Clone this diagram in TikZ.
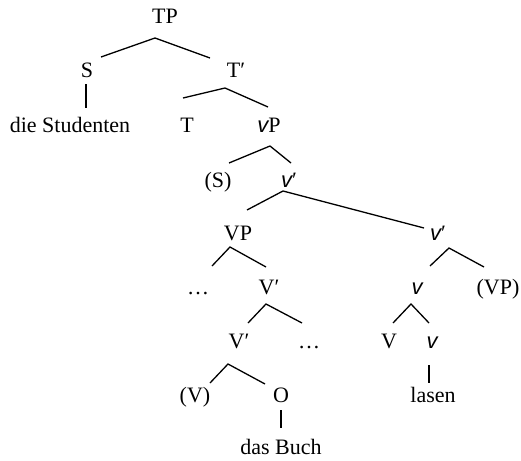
\documentclass[tikz,border=0pt]{standalone}
\usepackage{fontspec}
\setmainfont{Liberation Serif}
\newfontfamily\vfont{Liberation Sans}
\usetikzlibrary{calc,positioning}
\def\sv{{\vfont\itshape v}}
\tikzset{
  lab/.style={anchor=base,inner sep=0pt,font=\fontsize{22}{26}\selectfont},
  branch/.style={line width=1.3pt}
}
\begin{document}
\begin{tikzpicture}[x=1pt,y=-1pt]
\useasboundingbox (0,0) rectangle (521,460);
% labels
\node[lab] (tp) at (165,24) {TP};
\node[lab] (s) at (87,77) {S};
\node[lab] (tb) at (236,77) {T′};
\node[lab] (stud) at (70,132) {die Studenten};
\node[lab] (t) at (187,132) {T};
\node[lab] (vp) at (269,132) {\sv P};
\node[lab] (sp) at (218,187) {(S)};
\node[lab] (vb) at (289,187) {\sv′};
\node[lab] (vpb) at (238,240) {VP};
\node[lab] (vbr) at (438,240) {\sv′};
\node[lab] (dots1) at (198,294) {…};
\node[lab] (vbar) at (269,294) {V′};
\node[lab] (vsm) at (417,294) {\sv};
\node[lab] (vpp) at (498,294) {(VP)};
\node[lab] (vbarl) at (239,348) {V′};
\node[lab] (dots2) at (309,348) {…};
\node[lab] (vv) at (389,348) {V};
\node[lab] (vsm2) at (432,348) {\sv};
\node[lab] (vpar) at (195,402) {(V)};
\node[lab] (o) at (281,402) {O};
\node[lab] (lasen) at (433,402) {lasen};
\node[lab] (buch) at (281,454) {das Buch};
% branches
\draw[branch] ([shift={(14,-20)}]s.base) -- ([shift={(-10,14)}]tp.base) -- ([shift={(-26,-19)}]tb.base);
\draw[branch] ([shift={(-1,7)}]s.base) -- ([shift={(16,-24)}]stud.base);
\draw[branch] ([shift={(-4,-34)}]t.base) -- ([shift={(-11,11)}]tb.base) -- ([shift={(-1,-25)}]vp.base);
\draw[branch] ([shift={(11,-24)}]sp.base) -- ([shift={(1,14)}]vp.base) -- ([shift={(2,-24)}]vb.base);
\draw[branch] ([shift={(9,-30)}]vpb.base) -- ([shift={(-6,4)}]vb.base) -- ([shift={(-14,-12)}]vbr.base);
\draw[branch] ([shift={(14,-28)}]dots1.base) -- ([shift={(-8,7)}]vpb.base) -- ([shift={(-3,-27)}]vbar.base);
\draw[branch] ([shift={(13,-28)}]vsm.base) -- ([shift={(11,8)}]vbr.base) -- ([shift={(-14,-27)}]vpp.base);
\draw[branch] ([shift={(9,-25)}]vbarl.base) -- ([shift={(-3,10)}]vbar.base) -- ([shift={(-7,-25)}]dots2.base);
\draw[branch] ([shift={(4,-25)}]vv.base) -- ([shift={(-6,10)}]vsm.base) -- ([shift={(-3,-25)}]vsm2.base);
\draw[branch] ([shift={(15,-19)}]vpar.base) -- ([shift={(-11,16)}]vbarl.base) -- ([shift={(-16,-18)}]o.base);
\draw[branch] ([shift={(0,8)}]o.base) -- ([shift={(0,-26)}]buch.base);
\draw[branch] ([shift={(-3,17)}]vsm2.base) -- ([shift={(-4,-19)}]lasen.base);
\end{tikzpicture}
\end{document}
